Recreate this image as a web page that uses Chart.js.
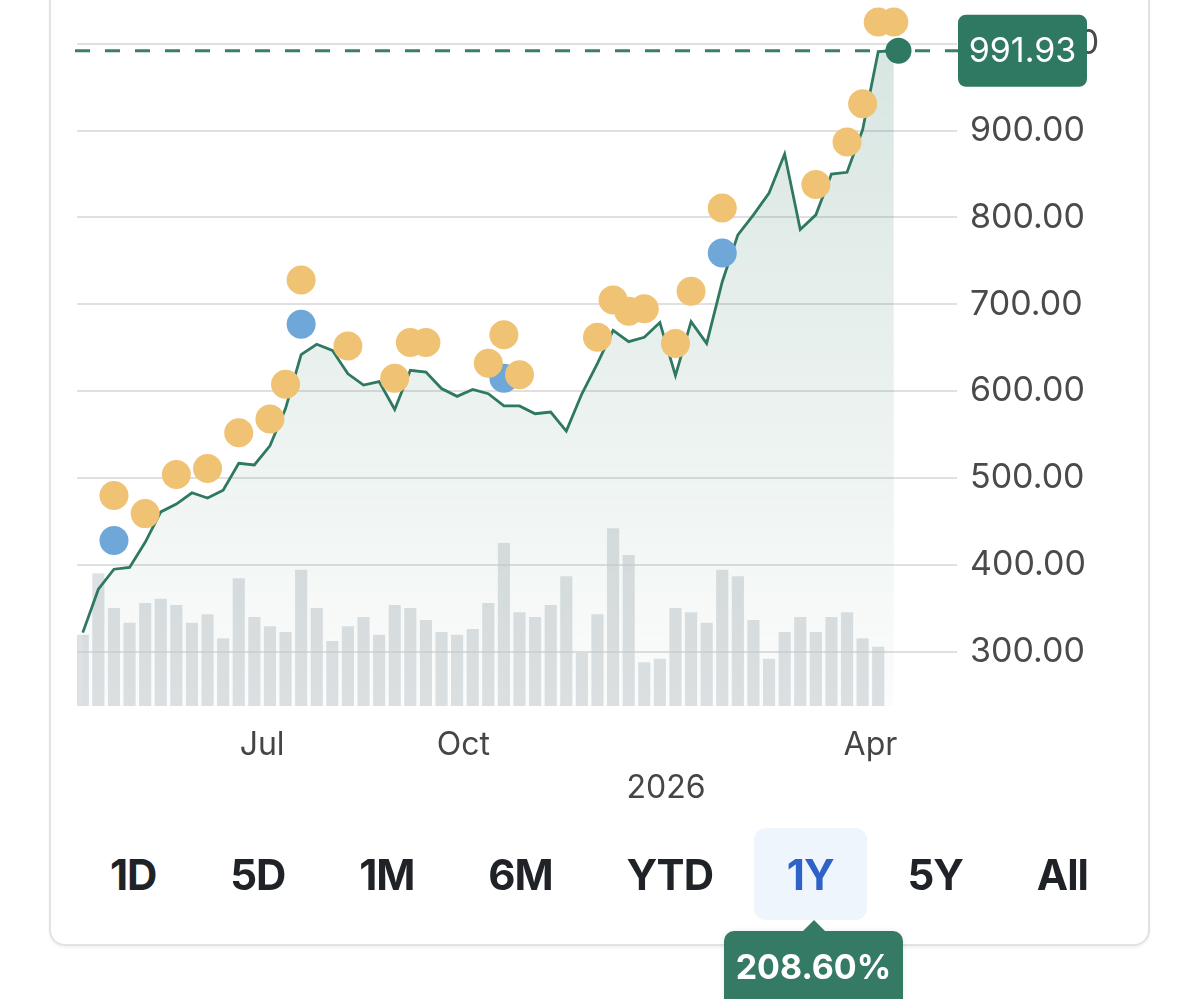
<!DOCTYPE html>
<html>
<head>
<meta charset="utf-8">
<title>1Y price chart</title>
<script src="https://cdn.jsdelivr.net/npm/chart.js@4.4.1/dist/chart.umd.min.js"></script>
<style>
    html, body { margin: 0; padding: 0; background: #fff; width: 1200px; height: 999px; overflow: hidden; font-family: Inter, sans-serif; }
    .card { position: absolute; left: 49px; top: -40px; width: 1101px; height: 986px; box-sizing: border-box; border: 2px solid #e2e2e2; border-radius: 16px; box-shadow: 0 2px 3px rgba(0,0,0,0.05); }
    #wrap { position: absolute; left: 0; top: -14px; width: 1150px; height: 844px; }
    .ranges { position: absolute; left: 110px; top: 850px; width: 978px; height: 50px; display: flex; justify-content: space-between; align-items: center; z-index: 1; }
    .ranges span { position: relative; font-weight: 700; font-size: 42px; letter-spacing: -1px; line-height: 50px; color: #1f2328; }
    .ranges span.on { color: #2f62c8; }
    .ranges span.on::before { content: ''; position: absolute; left: 50%; top: -22px; width: 113px; height: 92px; margin-left: -56px; background: #eef5fd; border-radius: 12px; z-index: -1; }
    .badge { position: absolute; left: 724px; top: 931px; width: 179px; height: 80px; background: #347a64; border-radius: 10px; color: #fff; font-weight: 700; font-size: 34px; line-height: 72px; text-align: center; box-shadow: 0 0 6px rgba(0,0,0,0.08); z-index: 2; }
    .badge::before { content: ''; position: absolute; left: 50%; top: -11px; margin-left: -11px; border-left: 11px solid transparent; border-right: 11px solid transparent; border-bottom: 11px solid #347a64; }
</style>
</head>
<body>
<div class="card"></div>
<div id="wrap"><canvas id="priceChart"></canvas></div>
<div class="ranges" id="ranges"></div>
<div class="badge" id="badge"></div>

<script>
    // ---- data (weekly, index = week number) ----
    const prices = [322, 372, 395, 397, 426, 461, 470, 483, 477, 486,
                    517, 515, 537, 580, 642, 654, 647, 620, 607, 611,
                    579, 624, 622, 603, 594, 602, 597, 583, 583, 574,
                    576, 554, 597, 632, 670, 657, 662, 679, 618, 680,
                    655, 726, 780, 803, 828, 873, 786, 803, 850, 852,
                    901, 991, 991.93];

    const volumes = [10.1, 18.8, 13.9, 11.8, 14.6, 15.2, 14.3, 11.8, 13.0, 9.6,
                     18.1, 12.6, 11.3, 10.5, 19.3, 13.9, 9.2, 11.3, 12.6, 10.1,
                     14.3, 13.9, 12.2, 10.5, 10.1, 10.9, 14.6, 23.1, 13.3, 12.6,
                     14.3, 18.4, 7.5, 13.0, 25.2, 21.4, 6.2, 6.7, 13.9, 13.3,
                     11.8, 19.3, 18.4, 12.2, 6.7, 10.5, 12.6, 10.5, 12.6, 13.3,
                     9.6, 8.4];

    // event markers
    const yellowWeeks  = [2, 4, 6, 8, 10, 12, 13, 14, 17, 20, 21, 22, 26, 27, 28, 33, 34, 35, 36, 38, 39, 41, 47, 49, 50, 51, 52];
    const yellowPrices = [480, 459, 504, 511, 552, 568, 608, 728, 652, 615, 656, 656, 632, 665, 619, 662, 705, 692, 695, 655, 715, 811, 838, 887, 931, 1025, 1025];
    const blueWeeks  = [2, 14, 27, 41];
    const bluePrices = [428, 677, 615, 759];

    const lastWeek = 52.3;
    const lastPrice = 991.93;
    const changePct = 208.60;

    // axis ticks
    const xTickWeeks  = [11.5, 24.4, 37.4, 50.5];
    const xTickLabels = ['Jul', 'Oct', ['', '2026'], 'Apr'];
    const yTicks = [300, 400, 500, 600, 700, 800, 900, 1000];

    const ranges = ['1D', '5D', '1M', '6M', 'YTD', '1Y', '5Y', 'All'];
    const activeRange = '1Y';

    // ---- colours ----
    const GREEN = '#2f7862';
    const YELLOW = '#f0c274';
    const BLUE = '#6fa7d9';

    const priceTag = {
        id: 'priceTag',
        beforeDatasetsDraw(chart) {
            const { ctx, chartArea: a, scales: { y } } = chart;
            const py = y.getPixelForValue(lastPrice);
            ctx.save();
            ctx.strokeStyle = '#3a7d68';
            ctx.lineWidth = 3;
            ctx.setLineDash([15, 15]);
            ctx.beginPath();
            ctx.moveTo(a.left - 2, py);
            ctx.lineTo(a.right + 2, py);
            ctx.stroke();
            ctx.restore();
        },
        afterDraw(chart) {
            const { ctx, chartArea: a, scales: { y } } = chart;
            const py = y.getPixelForValue(lastPrice);
            ctx.save();
            ctx.fillStyle = GREEN;
            ctx.beginPath();
            ctx.roundRect(a.right + 1, py - 36, 129, 72, 8);
            ctx.fill();
            ctx.fillStyle = '#fff';
            ctx.font = '34px Inter';
            ctx.textAlign = 'center';
            ctx.textBaseline = 'middle';
            ctx.fillText(lastPrice.toFixed(2), a.right + 65.5, py + 1);
            ctx.restore();
        }
    };

    const fillGradient = (context) => {
        const { chart } = context;
        const a = chart.chartArea;
        if (!a) return 'transparent';
        const g = chart.ctx.createLinearGradient(0, a.top, 0, a.bottom);
        g.addColorStop(0, 'rgba(47,120,98,0.2)');
        g.addColorStop(1, 'rgba(47,120,98,0.02)');
        return g;
    };

    Chart.defaults.font.family = 'Inter';

    new Chart(document.getElementById('priceChart').getContext('2d'), {
        type: 'line',
        data: {
            datasets: [
                {
                    label: 'Last',
                    data: [{ x: lastWeek, y: lastPrice }],
                    showLine: false,
                    pointRadius: 13,
                    pointBackgroundColor: GREEN,
                    pointBorderWidth: 0,
                    order: -1
                },
                {
                    label: 'Events',
                    data: yellowWeeks.map((w, i) => ({ x: w, y: yellowPrices[i] })),
                    showLine: false,
                    pointRadius: 14.5,
                    pointBackgroundColor: YELLOW,
                    pointBorderWidth: 0,
                    order: 0
                },
                {
                    label: 'Dividends',
                    data: blueWeeks.map((w, i) => ({ x: w, y: bluePrices[i] })),
                    showLine: false,
                    pointRadius: 14.5,
                    pointBackgroundColor: BLUE,
                    pointBorderWidth: 0,
                    order: 1
                },
                {
                    label: 'Price',
                    data: prices.map((p, i) => ({ x: i, y: p })),
                    borderColor: GREEN,
                    borderWidth: 2.8,
                    pointRadius: 0,
                    tension: 0,
                    fill: 'start',
                    backgroundColor: fillGradient,
                    order: 2
                },
                {
                    type: 'bar',
                    label: 'Volume',
                    data: volumes.map((v, i) => ({ x: i, y: v })),
                    yAxisID: 'yv',
                    backgroundColor: 'rgba(200,205,210,0.6)',
                    borderWidth: 0,
                    barPercentage: 0.78,
                    categoryPercentage: 1,
                    order: 3
                }
            ]
        },
        options: {
            responsive: true,
            maintainAspectRatio: false,
            animation: false,
            layout: { padding: { left: 77, right: 0, top: 0, bottom: 0 } },
            plugins: {
                legend: { display: false },
                tooltip: { enabled: false }
            },
            scales: {
                x: {
                    type: 'linear',
                    min: -0.37,
                    max: 56.05,
                    offset: false,
                    grid: { display: false, offset: false },
                    border: { display: false },
                    afterBuildTicks: (s) => { s.ticks = xTickWeeks.map(v => ({ value: v })); },
                    afterFit: (s) => { s.height = 124; s.paddingLeft = 0; s.paddingRight = 0; },
                    ticks: {
                        autoSkip: false,
                        maxRotation: 0,
                        padding: 10,
                        color: '#454545',
                        font: { size: 32, lineHeight: 1.35 },
                        callback: (v, i) => xTickLabels[i]
                    }
                },
                y: {
                    position: 'right',
                    min: 237.5,
                    max: 1049.8,
                    grid: { color: '#e0e0e0', lineWidth: 2, drawTicks: false },
                    border: { display: false },
                    afterBuildTicks: (s) => { s.ticks = yTicks.map(v => ({ value: v })); },
                    afterFit: (s) => { s.width = 193; s.paddingTop = 0; s.paddingBottom = 0; },
                    ticks: {
                        padding: 13,
                        color: '#4a4a4a',
                        font: { size: 34 },
                        callback: (v) => Number(v).toFixed(2)
                    }
                },
                yv: {
                    display: false,
                    min: 0,
                    max: 100
                }
            }
        },
        plugins: [priceTag]
    });

    // range buttons + change badge
    const bar = document.getElementById('ranges');
    ranges.forEach(r => {
        const s = document.createElement('span');
        s.textContent = r;
        if (r === activeRange) s.className = 'on';
        bar.appendChild(s);
    });
    document.getElementById('badge').textContent = changePct.toFixed(2) + '%';
</script>
</body>
</html>
